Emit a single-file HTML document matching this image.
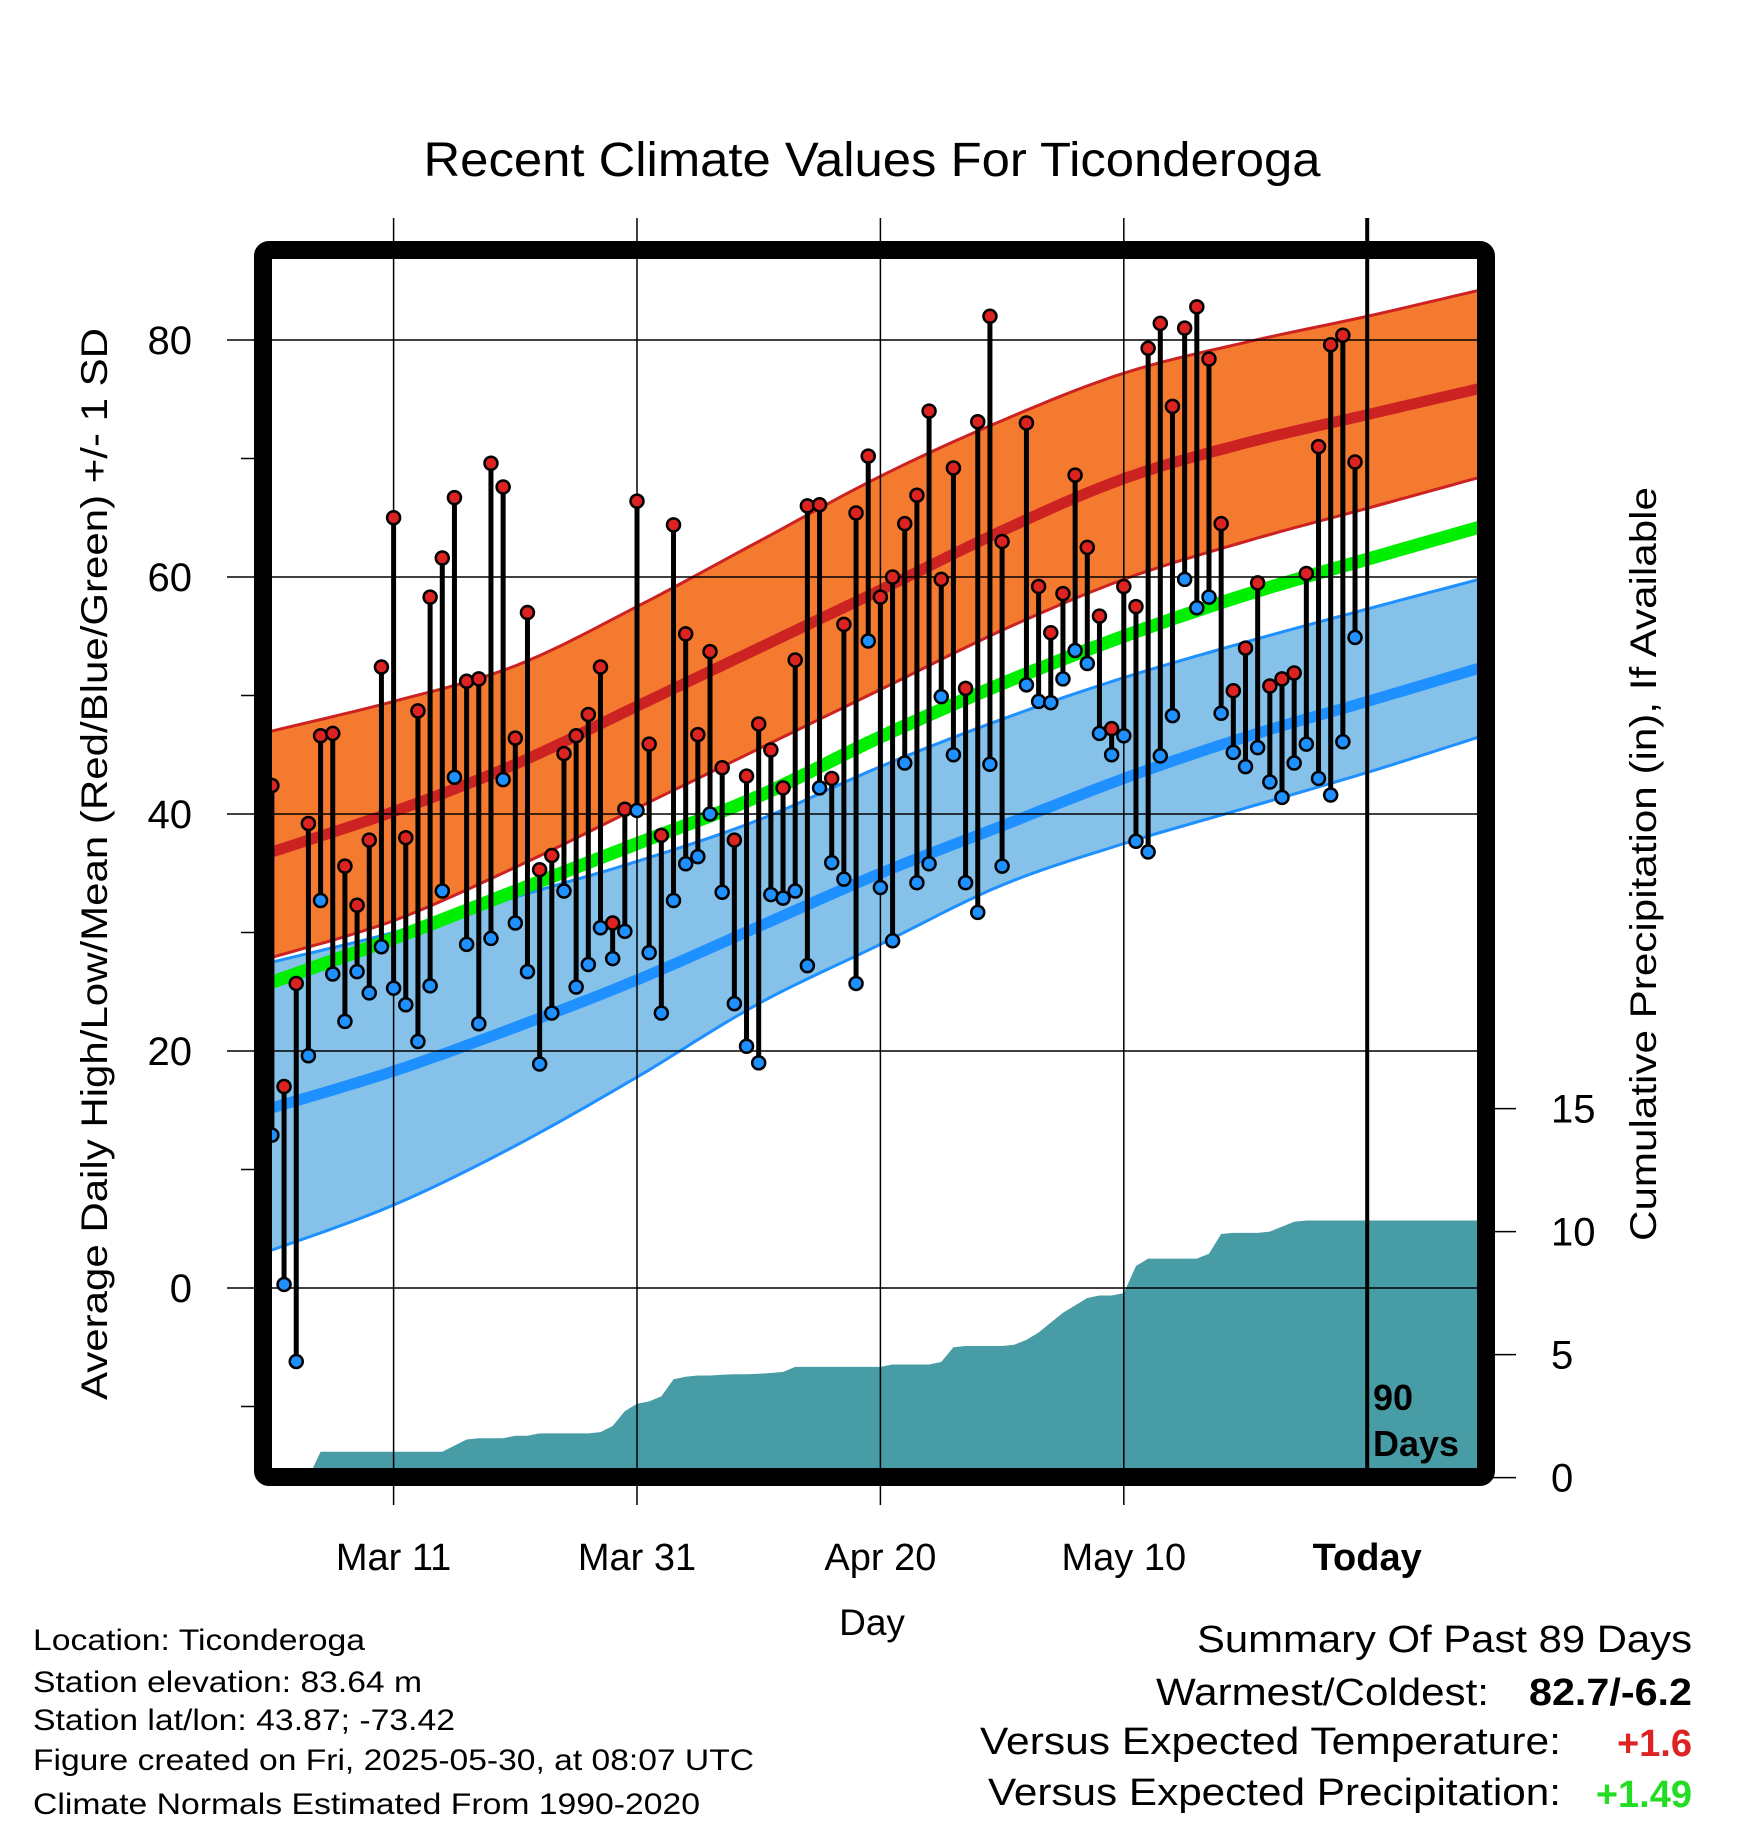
<!DOCTYPE html>
<html><head><meta charset="utf-8"><style>
html,body{margin:0;padding:0;background:#fff;}
svg{display:block;font-family:"Liberation Sans",sans-serif;}
</style></head><body>
<svg id="chart" width="1748" height="1828" viewBox="0 0 1748 1828" xmlns="http://www.w3.org/2000/svg">
<defs><clipPath id="plotclip"><rect x="270" y="256" width="1208" height="1212"/></clipPath></defs>
<text x="872" y="176" font-size="48" text-anchor="middle" textLength="897" lengthAdjust="spacingAndGlyphs">Recent Climate Values For Ticonderoga</text>
<g id="back" clip-path="url(#plotclip)"></g>
<g id="grid"></g>
<g id="marks" clip-path="url(#plotclip)"></g>
<g id="axes"></g>
<text transform="translate(107,864) rotate(-90)" font-size="37" text-anchor="middle" textLength="1072" lengthAdjust="spacingAndGlyphs">Average Daily High/Low/Mean (Red/Blue/Green) +/- 1 SD</text>
<text transform="translate(1656,864) rotate(-90)" font-size="37" text-anchor="middle" textLength="754" lengthAdjust="spacingAndGlyphs">Cumulative Precipitation (in), If Available</text>
<text x="872" y="1635" font-size="37" text-anchor="middle">Day</text>
<text x="1373" y="1410" font-size="36" font-weight="bold">90</text>
<text x="1373" y="1456" font-size="36" font-weight="bold">Days</text>
<g font-size="30">
<text x="33" y="1650" textLength="332" lengthAdjust="spacingAndGlyphs">Location: Ticonderoga</text>
<text x="33" y="1692" textLength="389" lengthAdjust="spacingAndGlyphs">Station elevation: 83.64 m</text>
<text x="33" y="1730" textLength="422" lengthAdjust="spacingAndGlyphs">Station lat/lon: 43.87; -73.42</text>
<text x="33" y="1770" textLength="721" lengthAdjust="spacingAndGlyphs">Figure created on Fri, 2025-05-30, at 08:07 UTC</text>
<text x="33" y="1814" textLength="667" lengthAdjust="spacingAndGlyphs">Climate Normals Estimated From 1990-2020</text>
</g>
<g font-size="38">
<text x="1692" y="1652" text-anchor="end" textLength="495" lengthAdjust="spacingAndGlyphs">Summary Of Past 89 Days</text>
<text x="1489" y="1705" text-anchor="end" textLength="333" lengthAdjust="spacingAndGlyphs">Warmest/Coldest:</text>
<text x="1692" y="1705" text-anchor="end" font-weight="bold" textLength="163" lengthAdjust="spacingAndGlyphs">82.7/-6.2</text>
<text x="1561" y="1754" text-anchor="end" textLength="581" lengthAdjust="spacingAndGlyphs">Versus Expected Temperature:</text>
<text x="1692" y="1756" text-anchor="end" font-weight="bold" fill="#DD2222">+1.6</text>
<text x="1561" y="1805" text-anchor="end" textLength="573" lengthAdjust="spacingAndGlyphs">Versus Expected Precipitation:</text>
<text x="1692" y="1807" text-anchor="end" font-weight="bold" fill="#22DD22">+1.49</text>
</g>
</svg>
<script>
const highs=[42.4,17.0,25.7,39.2,46.6,46.8,35.6,32.3,37.8,52.4,65.0,38.0,48.7,58.3,61.6,66.7,51.2,51.4,69.6,67.6,46.4,57.0,35.3,36.5,45.1,46.6,48.4,52.4,30.8,40.4,66.4,45.9,38.2,64.4,55.2,46.7,53.7,43.9,37.8,43.2,47.6,45.4,42.2,53.0,66.0,66.1,43.0,56.0,65.4,70.2,58.3,60.0,64.5,66.9,74.0,59.8,69.2,50.6,73.1,82.0,63.0,null,73.0,59.2,55.3,58.6,68.6,62.5,56.7,47.2,59.2,57.5,79.3,81.4,74.4,81.0,82.8,78.4,64.5,50.4,54.0,59.5,50.8,51.4,51.9,60.3,71.0,79.6,80.4,69.7];
const lows=[12.9,0.3,-6.2,19.6,32.7,26.5,22.5,26.7,24.9,28.8,25.3,23.9,20.8,25.5,33.5,43.1,29.0,22.3,29.5,42.9,30.8,26.7,18.9,23.2,33.5,25.4,27.3,30.4,27.8,30.1,40.3,28.3,23.2,32.7,35.8,36.4,40.0,33.4,24.0,20.4,19.0,33.2,32.9,33.5,27.2,42.2,35.9,34.5,25.7,54.6,33.8,29.3,44.3,34.2,35.8,49.9,45.0,34.2,31.7,44.2,35.6,null,50.9,49.5,49.4,51.4,53.8,52.7,46.8,45.0,46.6,37.7,36.8,44.9,48.3,59.8,57.4,58.3,48.5,45.2,44.0,45.6,42.7,41.4,44.3,45.9,43.0,41.6,46.1,54.9];
const precip=[0,0,0,0,1.05,1.05,1.05,1.05,1.05,1.05,1.05,1.05,1.05,1.05,1.05,1.3,1.55,1.6,1.6,1.6,1.7,1.7,1.8,1.8,1.8,1.8,1.8,1.85,2.1,2.7,3.0,3.1,3.3,4.0,4.1,4.15,4.15,4.18,4.2,4.2,4.22,4.25,4.3,4.5,4.5,4.5,4.5,4.5,4.5,4.5,4.5,4.6,4.6,4.6,4.6,4.7,5.3,5.35,5.35,5.35,5.35,5.4,5.6,5.9,6.3,6.7,7.0,7.3,7.4,7.4,7.5,8.6,8.9,8.9,8.9,8.9,8.9,9.1,9.9,9.95,9.95,9.95,10.0,10.2,10.4,10.45,10.45,10.45,10.45,10.45];
const normDays=[0,10,20,30,40,50,60,70,80,90,99.2];
const normHigh=[36.8,40.2,44.2,49.1,54.0,58.9,63.9,68.3,71.3,73.7,75.9];
const normHighUp=[47.0,49.5,52.5,57.5,63.0,68.5,73.2,77.2,79.8,82.0,84.2];
const normHighLo=[27.9,31.0,35.5,40.5,45.5,50.5,55.5,59.8,63.0,65.8,68.4];
const normMean=[25.8,29.5,33.5,37.5,41.5,46.5,51.0,55.0,58.5,61.5,64.2];
const normLow=[15.2,18.3,22.0,26.0,30.5,35.0,39.0,43.0,46.5,49.5,52.3];
const normLowUp=[27.5,30.0,33.0,36.0,39.5,44.0,48.0,51.5,54.5,57.3,59.8];
const normLowLo=[3.2,7.0,12.0,17.8,24.0,29.0,34.0,37.5,40.5,43.5,46.5];
const yTicks=[0,20,40,60,80];
const yMinor=[-10,10,30,50,70];
const pTicks=[0,5,10,15];
const xTickDays=[10,30,50,70,90];
const xTickLabels=["Mar 11","Mar 31","Apr 20","May 10","Today"];

const NS="http://www.w3.org/2000/svg";
const X=d=>271.9+12.17*d;
const Y=v=>1288-11.85*v;
const P=p=>1477.6-24.6*p;
function mk(tag,parent,attrs){const e=document.createElementNS(NS,tag);for(const k in attrs)e.setAttribute(k,attrs[k]);parent.appendChild(e);return e;}
const back=document.getElementById('back'),grid=document.getElementById('grid'),marks=document.getElementById('marks'),axes=document.getElementById('axes');

// precipitation area
let pd=`M${X(0)},${P(0)}`;
precip.forEach((p,i)=>{pd+=` L${X(i)},${P(p)}`;});
pd+=` L1480,${P(precip[precip.length-1])} L1480,1470 L${X(0)},1470 Z`;
const pa=mk('path',back,{d:pd,fill:'#489CA5'});



// smooth curve sampling (Catmull-Rom)
function pts(arr){
  const out=[];const n=arr.length;
  for(let i=0;i<n-1;i++){
    const x0=normDays[Math.max(i-1,0)],x1=normDays[i],x2=normDays[i+1],x3=normDays[Math.min(i+2,n-1)];
    const y0=arr[Math.max(i-1,0)],y1=arr[i],y2=arr[i+1],y3=arr[Math.min(i+2,n-1)];
    for(let s=0;s<10;s++){
      const t=s/10,t2=t*t,t3=t2*t;
      const f=(a,b,c,d)=>0.5*((2*b)+(-a+c)*t+(2*a-5*b+4*c-d)*t2+(-a+3*b-3*c+d)*t3);
      out.push([X(f(x0,x1,x2,x3)),Y(f(y0,y1,y2,y3))]);
    }
  }
  out.push([X(normDays[n-1]),Y(arr[n-1])]);
  return out;
}
function line(arr){return pts(arr).map((p,i)=>`${i?'L':'M'}${p[0].toFixed(1)},${p[1].toFixed(1)}`).join(' ');}
function band(up,lo){let s=line(up);const q=pts(lo).reverse();q.forEach(p=>{s+=` L${p[0].toFixed(1)},${p[1].toFixed(1)}`;});return s+' Z';}
const hb=mk('path',back,{d:band(normHighUp,normHighLo),fill:'#F47A30'});


const hbu=mk('path',back,{d:line(normHighUp),fill:'none',stroke:'#CC2222','stroke-width':3});


const hbl=mk('path',back,{d:line(normHighLo),fill:'none',stroke:'#CC2222','stroke-width':3});


const hm=mk('path',back,{d:line(normHigh),fill:'none',stroke:'#CC2222','stroke-width':11});


const lb=mk('path',back,{d:band(normLowUp,normLowLo),fill:'#85C1E9'});


const lbu=mk('path',back,{d:line(normLowUp),fill:'none',stroke:'#1E90FF','stroke-width':3});


const lbl=mk('path',back,{d:line(normLowLo),fill:'none',stroke:'#1E90FF','stroke-width':3});


const gm=mk('path',back,{d:line(normMean),fill:'none',stroke:'#00EE00','stroke-width':13});


const lm=mk('path',back,{d:line(normLow),fill:'none',stroke:'#1E90FF','stroke-width':11});



// grid
yTicks.forEach(v=>{
  const g=mk('line',grid,{x1:227,x2:1478,y1:Y(v),y2:Y(v),stroke:'#000','stroke-width':1.5});
  
  
  const t=mk('text',axes,{x:192,y:Y(v)+14,'font-size':40,'text-anchor':'end'});
  t.textContent=v;
  
  
});
yMinor.forEach(v=>{
  const g=mk('line',grid,{x1:241,x2:256,y1:Y(v),y2:Y(v),stroke:'#000','stroke-width':1.5});
  
  
});
xTickDays.forEach((d,i)=>{
  const today=i===xTickDays.length-1;
  const g=mk('line',grid,{x1:X(d),x2:X(d),y1:218,y2:today?1468:1505,stroke:'#000','stroke-width':today?4:1.5});
  
  
  const t=mk('text',axes,{x:X(d),y:1570,'font-size':38,'text-anchor':'middle','font-weight':today?'bold':'normal'});
  t.textContent=xTickLabels[i];
  
  
});
pTicks.forEach(p=>{
  const g=mk('line',axes,{x1:1490,x2:1516,y1:P(p),y2:P(p),stroke:'#000','stroke-width':1.5});
  
  
  const t=mk('text',axes,{x:1551,y:P(p)+14,'font-size':40});
  t.textContent=p;
  
  
});
const fr=mk('rect',axes,{x:263,y:250,width:1223,height:1227,rx:6,fill:'none',stroke:'#000','stroke-width':18});



// daily bars and points
highs.forEach((h,i)=>{
  const l=lows[i];
  if(h===null||l===null)return;
  const b=mk('line',marks,{x1:X(i),x2:X(i),y1:Y(h),y2:Y(l),stroke:'#000','stroke-width':5});
  
  
});
highs.forEach((h,i)=>{
  const l=lows[i];
  if(h===null||l===null)return;
  const ch=mk('circle',marks,{cx:X(i),cy:Y(h),r:6.5,fill:'#DD2222',stroke:'#000','stroke-width':2.5});
  
  
  const cl=mk('circle',marks,{cx:X(i),cy:Y(l),r:6.5,fill:'#1E90FF',stroke:'#000','stroke-width':2.5});
  
  
});
</script>
</body></html>
